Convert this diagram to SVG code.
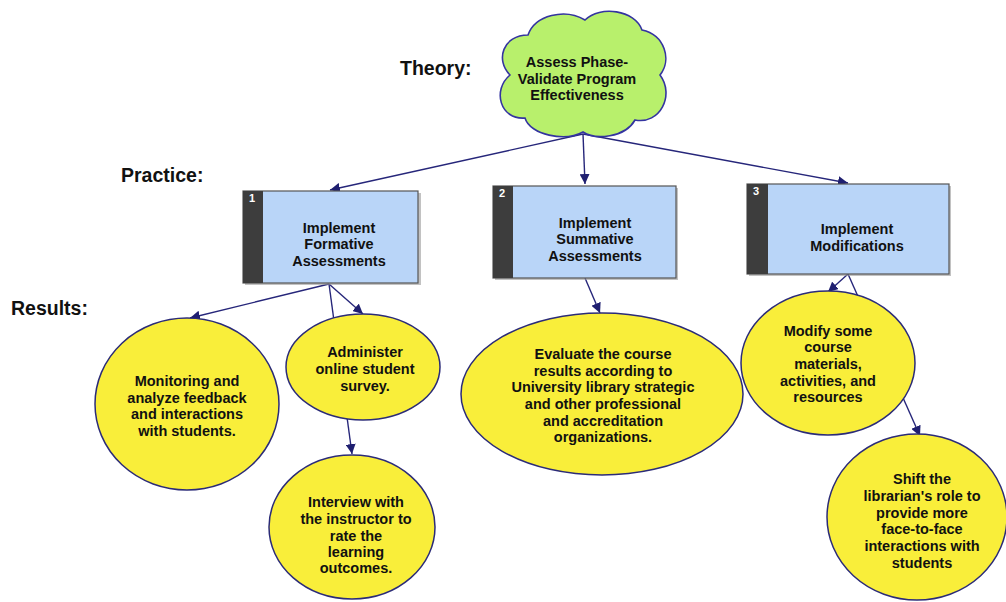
<svg xmlns="http://www.w3.org/2000/svg" width="1006" height="602" viewBox="0 0 1006 602">
<defs>
<style>
.lbl{font-family:"Liberation Sans",Arial,sans-serif;font-weight:bold;font-size:19.5px;fill:#111}
.t{font-family:"Liberation Sans",Arial,sans-serif;font-weight:bold;font-size:14.5px;fill:#111;text-anchor:middle}
.num{font-family:"Liberation Sans",Arial,sans-serif;font-weight:bold;font-size:11px;fill:#fff}
.edge{stroke:#26267a;stroke-width:1.4;fill:none;marker-end:url(#ah)}
.ell{fill:#f9ee3a;stroke:#2b2b78;stroke-width:1.5}
.box{fill:#b9d5f8;stroke:#555;stroke-width:1.2}
.strip{fill:#3d3d3d}
.shadow{fill:#9a9a9a;opacity:0.6}
</style>
<marker id="ah" viewBox="0 0 10 10" refX="10" refY="5" markerWidth="10" markerHeight="10" markerUnits="userSpaceOnUse" orient="auto">
<path d="M0,0 L10,5 L0,10 Z" fill="#1f1f70"/>
</marker>
</defs>
<rect width="1006" height="602" fill="#fff"/>
<text class="lbl" x="400" y="75">Theory:</text>
<text class="lbl" x="121" y="182">Practice:</text>
<text class="lbl" x="11" y="315">Results:</text>
<g id="connectors">
<line class="edge" x1="583" y1="134" x2="330" y2="190"/>
<line class="edge" x1="583" y1="134" x2="585" y2="184"/>
<line class="edge" x1="583" y1="134" x2="848" y2="183"/>
<line class="edge" x1="329" y1="284" x2="190" y2="318"/>
<line class="edge" x1="329" y1="284" x2="363" y2="314"/>
<line class="edge" x1="329" y1="284" x2="352" y2="454"/>
<line class="edge" x1="585" y1="278" x2="600" y2="313"/>
<line class="edge" x1="848" y1="274" x2="828" y2="292"/>
<line class="edge" x1="848" y1="274" x2="920" y2="436"/>
</g>
<g id="theory">
<path d="M510 75 C495 60 503 35 528 35 C535 15 565 8 585 20 C600 5 635 10 642 30 C665 35 672 60 660 75 C675 95 660 125 635 120 C625 138 595 140 583 132 C565 142 530 135 525 118 C500 120 492 90 510 75 Z" fill="#b8f06c" stroke="#3434a0" stroke-width="1.6"/>
<text class="t" x="577" y="67">Assess Phase-</text>
<text class="t" x="577" y="84">Validate Program</text>
<text class="t" x="577" y="100">Effectiveness</text>
</g>
<g id="box1">
<rect class="shadow" x="245" y="193" width="176" height="92"/>
<rect class="box" x="243" y="191" width="175" height="92"/>
<rect class="strip" x="243" y="191" width="20" height="92"/>
<text class="num" x="249" y="202">1</text>
<text class="t" x="339" y="233">Implement</text>
<text class="t" x="339" y="249">Formative</text>
<text class="t" x="339" y="266">Assessments</text>
</g>
<g id="box2">
<rect class="shadow" x="495" y="188" width="183" height="92"/>
<rect class="box" x="493" y="186" width="183" height="92"/>
<rect class="strip" x="493" y="186" width="20" height="92"/>
<text class="num" x="499" y="197">2</text>
<text class="t" x="595" y="228">Implement</text>
<text class="t" x="595" y="244">Summative</text>
<text class="t" x="595" y="261">Assessments</text>
</g>
<g id="box3">
<rect class="shadow" x="749" y="186" width="202" height="90"/>
<rect class="box" x="747" y="184" width="202" height="90"/>
<rect class="strip" x="747" y="184" width="21" height="90"/>
<text class="num" x="753" y="195">3</text>
<text class="t" x="857" y="234">Implement</text>
<text class="t" x="857" y="251">Modifications</text>
</g>
<g id="monitoring">
<ellipse class="ell" cx="187" cy="404" rx="92" ry="86"/>
<text class="t" x="187" y="386">Monitoring and</text>
<text class="t" x="187" y="403">analyze feedback</text>
<text class="t" x="187" y="419">and interactions</text>
<text class="t" x="187" y="436">with students.</text>
</g>
<g id="administer">
<ellipse class="ell" cx="363" cy="367" rx="77" ry="53"/>
<text class="t" x="365" y="357">Administer</text>
<text class="t" x="365" y="374">online student</text>
<text class="t" x="365" y="391">survey.</text>
</g>
<g id="interview">
<ellipse class="ell" cx="352" cy="527" rx="83" ry="72"/>
<text class="t" x="356" y="507">Interview with</text>
<text class="t" x="356" y="524">the instructor to</text>
<text class="t" x="356" y="541">rate the</text>
<text class="t" x="356" y="557">learning</text>
<text class="t" x="356" y="573">outcomes.</text>
</g>
<g id="evaluate">
<ellipse class="ell" cx="602" cy="394" rx="141" ry="81"/>
<text class="t" x="603" y="359">Evaluate the course</text>
<text class="t" x="603" y="376">results according to</text>
<text class="t" x="603" y="392">University library strategic</text>
<text class="t" x="603" y="409">and other professional</text>
<text class="t" x="603" y="426">and accreditation</text>
<text class="t" x="603" y="442">organizations.</text>
</g>
<g id="modify">
<ellipse class="ell" cx="828" cy="363" rx="87" ry="72"/>
<text class="t" x="828" y="336">Modify some</text>
<text class="t" x="828" y="352">course</text>
<text class="t" x="828" y="369">materials,</text>
<text class="t" x="828" y="386">activities, and</text>
<text class="t" x="828" y="402">resources</text>
</g>
<g id="shift">
<ellipse class="ell" cx="917" cy="517" rx="90" ry="83"/>
<text class="t" x="922" y="484">Shift the</text>
<text class="t" x="922" y="501">librarian's role to</text>
<text class="t" x="922" y="518">provide more</text>
<text class="t" x="922" y="534">face-to-face</text>
<text class="t" x="922" y="551">interactions with</text>
<text class="t" x="922" y="568">students</text>
</g>
</svg>
